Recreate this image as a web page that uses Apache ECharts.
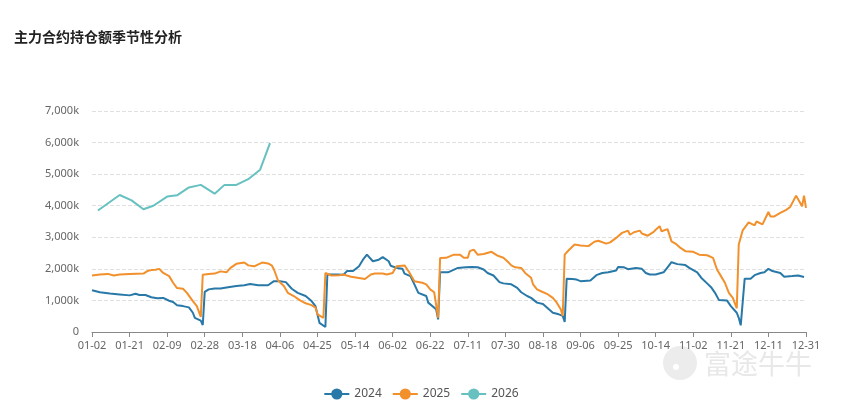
<!DOCTYPE html>
<html lang="zh-CN">
<head>
  <meta charset="UTF-8">
  <title>主力合约持仓额季节性分析</title>
  <script src="https://cdn.jsdelivr.net/npm/echarts@6/dist/echarts.min.js"></script>
  <style>
    body { margin: 0; padding: 0; background: #fff; }
    #chart { width: 842px; height: 406px; }
  </style>
</head>
<body>
  <div id="chart"></div>
  <script>
    // 横轴：按闰年的月-日排列，有三天没有数据
    const monthDays = [31, 29, 31, 30, 31, 30, 31, 31, 30, 31, 30, 31];
    const skipDays = ['01-01', '06-10', '11-30', '12-25'];
    const days = [];
    monthDays.forEach(function (n, m) {
      for (let d = 1; d <= n; d++) {
        const key = String(m + 1).padStart(2, '0') + '-' + String(d).padStart(2, '0');
        if (skipDays.indexOf(key) < 0) days.push(key);
      }
    });

    // 持仓额（单位：k）
    const s2024 = [
      ['01-02',1320],['01-06',1260],['01-11',1220],['01-16',1190],['01-21',1160],['01-24',1210],['01-26',1170],['01-29',1170],
      ['02-01',1100],['02-04',1070],['02-07',1080],['02-10',990],['02-12',950],['02-14',850],['02-17',820],['02-20',780],
      ['02-22',610],['02-23',450],['02-26',360],['02-27',220],['02-28',1270],['03-01',1350],['03-04',1380],['03-07',1380],
      ['03-10',1410],['03-15',1460],['03-19',1480],['03-22',1520],['03-26',1480],['03-31',1480],['04-03',1610],['04-06',1610],
      ['04-09',1580],['04-12',1370],['04-15',1240],['04-19',1140],['04-22',980],['04-24',820],['04-26',290],['04-29',160],
      ['04-30',1820],['05-05',1820],['05-08',1810],['05-10',1930],['05-13',1930],['05-16',2080],['05-18',2290],['05-20',2450],
      ['05-23',2240],['05-26',2290],['05-28',2370],['05-31',2240],['06-01',2100],['06-04',2030],['06-07',2000],['06-08',1850],
      ['06-12',1770],['06-14',1510],['06-16',1240],['06-20',1140],['06-21',930],['06-25',720],['06-26',400],['06-27',1890],
      ['07-01',1890],['07-06',2030],['07-10',2050],['07-13',2060],['07-16',2050],['07-19',1980],['07-21',1870],['07-24',1790],
      ['07-27',1580],['07-29',1540],['08-02',1510],['08-05',1400],['08-07',1260],['08-10',1140],['08-12',1080],['08-15',930],
      ['08-18',890],['08-21',720],['08-23',610],['08-26',560],['08-28',510],['08-29',320],['08-30',1690],['09-02',1680],
      ['09-04',1660],['09-06',1610],['09-11',1630],['09-14',1800],['09-17',1870],['09-20',1890],['09-24',1950],['09-25',2060],
      ['09-28',2050],['09-30',1990],['10-04',2030],['10-07',2000],['10-09',1870],['10-11',1820],['10-14',1820],['10-18',1890],
      ['10-20',2050],['10-22',2210],['10-25',2150],['10-29',2120],['10-31',2030],['11-04',1890],['11-06',1720],['11-09',1540],
      ['11-11',1420],['11-13',1240],['11-15',1010],['11-19',1000],['11-21',820],['11-24',610],['11-25',450],['11-26',210],
      ['11-28',1690],['12-02',1690],['12-04',1800],['12-07',1870],['12-09',1890],['12-11',2000],['12-13',1930],['12-17',1870],
      ['12-19',1750],['12-23',1770],['12-27',1790],['12-30',1740]
    ];
    const s2025 = [
      ['01-02',1790],['01-06',1820],['01-10',1840],['01-13',1790],['01-16',1820],['01-21',1840],['01-28',1850],['01-30',1930],
      ['02-01',1960],['02-03',1970],['02-05',2000],['02-07',1870],['02-10',1770],['02-12',1560],['02-14',1390],['02-17',1370],
      ['02-19',1240],['02-22',980],['02-24',820],['02-26',480],['02-27',1810],['03-01',1840],['03-04',1850],['03-07',1920],
      ['03-10',1890],['03-12',2030],['03-15',2160],['03-19',2200],['03-21',2110],['03-24',2080],['03-28',2200],['03-31',2170],
      ['04-02',2100],['04-03',1980],['04-05',1640],['04-08',1460],['04-10',1240],['04-13',1140],['04-16',1010],['04-19',910],
      ['04-22',850],['04-24',770],['04-25',560],['04-28',450],['04-29',1870],['05-02',1790],['05-06',1800],['05-08',1820],
      ['05-12',1750],['05-16',1710],['05-19',1680],['05-22',1820],['05-24',1850],['05-28',1850],['05-30',1820],['06-02',1870],
      ['06-04',2080],['06-08',2110],['06-11',1930],['06-14',1610],['06-18',1560],['06-20',1510],['06-22',1350],['06-24',1260],
      ['06-26',450],['06-27',2340],['06-30',2350],['07-04',2450],['07-07',2450],['07-09',2350],['07-11',2350],['07-12',2560],
      ['07-14',2610],['07-16',2450],['07-19',2470],['07-23',2540],['07-26',2420],['07-29',2350],['07-31',2240],['08-02',2110],
      ['08-04',2050],['08-07',2030],['08-09',1870],['08-12',1720],['08-13',1510],['08-15',1350],['08-17',1290],['08-20',1210],
      ['08-23',1080],['08-25',930],['08-27',720],['08-28',510],['08-29',2450],['08-31',2590],['09-03',2770],['09-06',2740],
      ['09-10',2720],['09-13',2860],['09-15',2890],['09-19',2800],['09-21',2840],['09-24',2980],['09-25',2950],['09-27',3140],
      ['09-30',3210],['10-01',3080],['10-03',3160],['10-06',3210],['10-07',3120],['10-08',3170],['10-10',3050],['10-13',3170],
      ['10-14',3240],['10-16',3350],['10-17',3190],['10-20',3260],['10-22',2870],['10-24',2800],['10-26',2690],['10-29',2560],
      ['11-02',2540],['11-05',2450],['11-09',2430],['11-12',2350],['11-14',1980],['11-16',1770],['11-18',1560],['11-20',1240],
      ['11-22',1080],['11-24',750],['11-25',2770],['11-27',3220],['12-01',3470],['12-02',3450],['12-04',3380],['12-05',3500],
      ['12-08',3410],['12-11',3800],['12-12',3660],['12-14',3660],['12-17',3770],['12-18',3740],['12-20',3870],['12-22',3960],
      ['12-26',4320],['12-29',3980],['12-30',4320],['12-31',3930]
    ];
    const s2026 = [
      ['01-05',3850],['01-16',4340],['01-22',4170],['01-28',3890],['02-02',4000],['02-09',4290],['02-14',4330],['02-20',4580],
      ['02-26',4660],['03-04',4380],['03-09',4660],['03-15',4660],['03-21',4840],['03-27',5140],['04-01',5980]
    ];

    const colors = ['#2878a8', '#f2902c', '#66c1c0'];

    const chart = echarts.init(document.getElementById('chart'));

    function lineSeries(name, data, color) {
      return {
        name: name,
        type: 'line',
        data: data,
        symbol: 'circle',
        symbolSize: 8,
        showSymbol: false,
        lineStyle: { width: 2, color: color },
        itemStyle: { color: color },
        emphasis: { disabled: true }
      };
    }

    chart.setOption({
      animation: false,
      color: colors,
      title: {
        text: '主力合约持仓额季节性分析',
        left: 9,
        top: 25,
        textStyle: { fontSize: 14, fontWeight: 'bold', color: '#222', fontFamily: 'Noto Sans CJK SC' }
      },
      legend: {
        top: 383,
        left: 'center',
        itemWidth: 25,
        itemHeight: 14,
        itemGap: 10,
        textStyle: { fontSize: 12, color: '#555', fontFamily: 'Noto Sans' },
        data: ['2024', '2025', '2026']
      },
      grid: { left: 92, right: 36, top: 111, bottom: 74 },
      xAxis: {
        type: 'category',
        data: days,
        boundaryGap: false,
        axisLine: { lineStyle: { color: '#888' } },
        axisTick: { lineStyle: { color: '#888' } },
        axisLabel: { interval: 18, color: '#666', fontSize: 11, margin: 8, fontFamily: 'Noto Sans' }
      },
      yAxis: {
        type: 'value',
        min: 0,
        max: 7000,
        interval: 1000,
        axisLine: { show: false },
        axisTick: { show: false },
        splitLine: { lineStyle: { type: 'dashed', color: '#e0e0e0' } },
        axisLabel: {
          color: '#666',
          fontSize: 11,
          margin: 13,
          fontFamily: 'Noto Sans',
          formatter: function (v) { return v === 0 ? '0' : v.toLocaleString('en-US') + 'k'; }
        }
      },
      graphic: [
        { type: 'circle', shape: { cx: 680, cy: 363, r: 17 }, style: { fill: '#ececec' }, silent: true },
        { type: 'circle', shape: { cx: 676, cy: 367, r: 3 }, style: { fill: '#fff' }, silent: true },
        { type: 'text', left: 704, top: 350, silent: true,
          style: { text: '富途牛牛', fontSize: 27, fill: '#e8e8e8', fontFamily: 'Noto Sans CJK SC' } }
      ],
      series: [
        lineSeries('2024', s2024, colors[0]),
        lineSeries('2025', s2025, colors[1]),
        lineSeries('2026', s2026, colors[2])
      ]
    });
  </script>
</body>
</html>
